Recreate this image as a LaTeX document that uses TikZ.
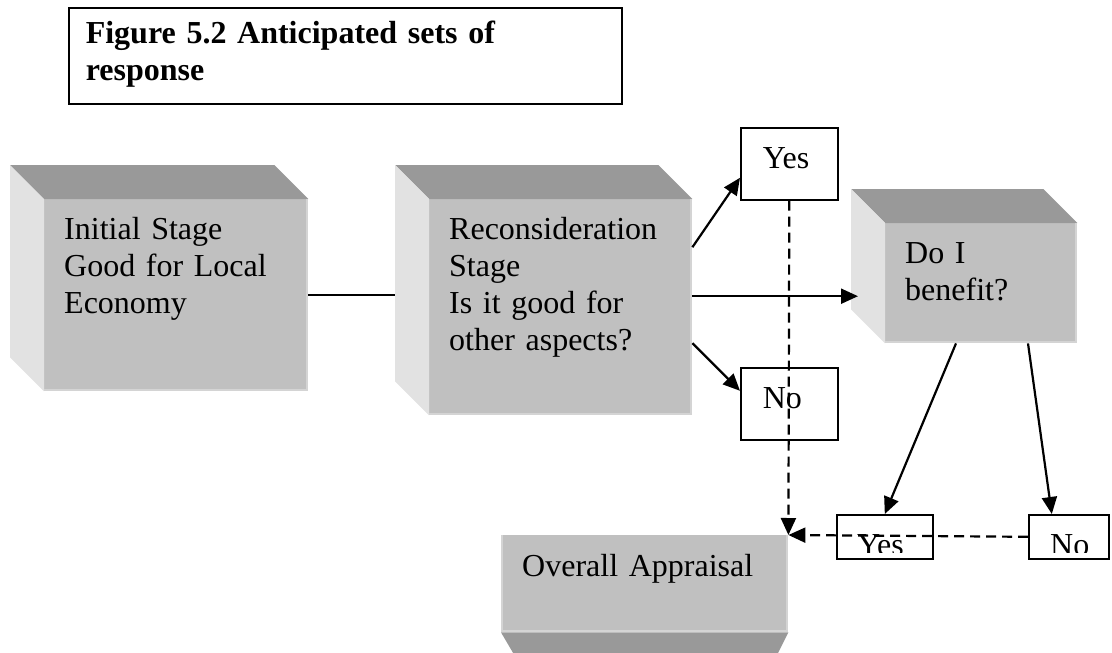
\documentclass[tikz,border=0pt]{standalone}
\usepackage{fontspec}
\setmainfont{Liberation Serif}
\usetikzlibrary{arrows.meta,calc}

\definecolor{facegray}{HTML}{C0C0C0}
\definecolor{topgray}{HTML}{999999}
\definecolor{sidegray}{HTML}{E2E2E2}
\definecolor{rimgray}{HTML}{D4D4D4}

% shaded top and left faces behind a front face of depth 34
\newcommand\cubesides[1]{%
  \fill[topgray] (#1.north west) -- (#1.north east) -- ++(-34,-34)
    -- ($(#1.north west)+(-34,-34)$) -- cycle;
  \fill[sidegray] (#1.north west) -- ($(#1.north west)+(-34,-34)$)
    -- ($(#1.south west)+(-34,-34)$) -- (#1.south west) -- cycle;
  \draw[rimgray, line width=2pt] ([xshift=-1pt]#1.north east)
    -- ([xshift=-1pt,yshift=1pt]#1.south east) -- ([yshift=1pt]#1.south west);
}

\begin{document}
\begin{tikzpicture}[x=1pt,y=-1pt,
  bodyfont/.style={font=\fontsize{32}{37}\selectfont},
  frontface/.style={rectangle, fill=facegray, draw=none, anchor=north west,
    inner xsep=20pt, inner ysep=0pt, text height=40pt, align=left, bodyfont},
  answerbox/.style={rectangle, draw=black, line width=1.6pt, fill=white,
    anchor=north west, inner xsep=22pt, inner ysep=0pt, text height=41pt,
    text width=53pt, text depth=31pt, align=left, bodyfont},
  emptybox/.style={rectangle, draw=black, line width=1.6pt, fill=white,
    anchor=north west, inner sep=0pt},
  cliptext/.style={anchor=base west, inner sep=0pt, bodyfont},
  link/.style={line width=2.2pt},
  arr/.style={line width=2.2pt, -{Triangle[length=17pt,width=15pt]}},
  darr/.style={arr, dash pattern=on 10pt off 6pt}]

\useasboundingbox (0,0) rectangle (1112,653);
\clip (0,0) rectangle (1112,653);

% title
\node[rectangle, draw=black, line width=1.6pt, anchor=north west,
  inner xsep=17pt, inner ysep=0pt, text width=519pt, text height=36pt,
  text depth=60pt, align=left, font=\fontsize{32}{37}\selectfont\bfseries]
  (title) at (68,7) {Figure 5.2 Anticipated sets of\\response};

% stage boxes
\node[frontface, text width=224pt, text depth=152pt] (init) at (44,199)
  {Initial Stage\\Good for Local\\Economy};
\cubesides{init}
\node[frontface, text width=223pt, text depth=176pt] (recon) at (429,199)
  {Reconsideration\\Stage\\Is it good for\\other aspects?};
\cubesides{recon}
\node[frontface, text width=152pt, text depth=80pt] (benefit) at (885,223)
  {Do I\\benefit?};
\cubesides{benefit}

\coordinate (reconback) at ($(recon.north west)+(-34,-34)$);
\coordinate (benefitback) at ($(benefit.north west)+(-34,-34)$);

% overall appraisal, extruded downwards
\node[frontface, inner xsep=21pt, text height=41pt, text width=245pt,
  text depth=56pt] (overall) at (501,535) {Overall Appraisal};
\fill[topgray] (overall.south west) -- (overall.south east)
  -- ++(-17,34) -- ($(overall.south west)+(20,34)$) -- cycle;
\draw[rimgray, line width=2pt] ([xshift=1pt]overall.north west)
  -- ([xshift=1pt,yshift=1pt]overall.south west)
  -- ([xshift=-1pt,yshift=1pt]overall.south east)
  -- ([xshift=-1pt]overall.north east);

% answer boxes
\node[answerbox] (yesA) at (740,127) {Yes};
\node[answerbox] (noA) at (740,367) {No};
\node[emptybox, minimum width=96pt, minimum height=44pt] (yesB) at (836,514) {};
\node[emptybox, minimum width=80pt, minimum height=44pt] (noB) at (1028,514) {};
\begin{scope}
  \clip (yesB.north west) rectangle ([yshift=7pt]noB.south east);
  \node[cliptext] (yesBtext) at (857,555) {Yes};
  \node[cliptext] (noBtext) at (1050,555) {No};
\end{scope}

% connectors
\draw[link] (init.east) -- (init.east -| reconback);
\draw[arr] ([yshift=60pt]recon.east) -- ([yshift=-14pt]yesA.west);
\coordinate (mid) at ([yshift=11pt]recon.east);
\draw[arr, shorten >=-7pt] (mid) -- (mid -| benefitback);
\draw[arr] ([yshift=-36pt]recon.east) -- ([yshift=13pt]noA.west);
\draw[arr] ([xshift=71pt]benefit.south west) -- (yesB.north);
\draw[arr] ([xshift=143pt]benefit.south west) -- ([xshift=-17pt]noB.north);

\draw[darr] (yesA.south) -- (overall.north east);
\draw[darr] (noB.west) -- (overall.north east);

\end{tikzpicture}
\end{document}
